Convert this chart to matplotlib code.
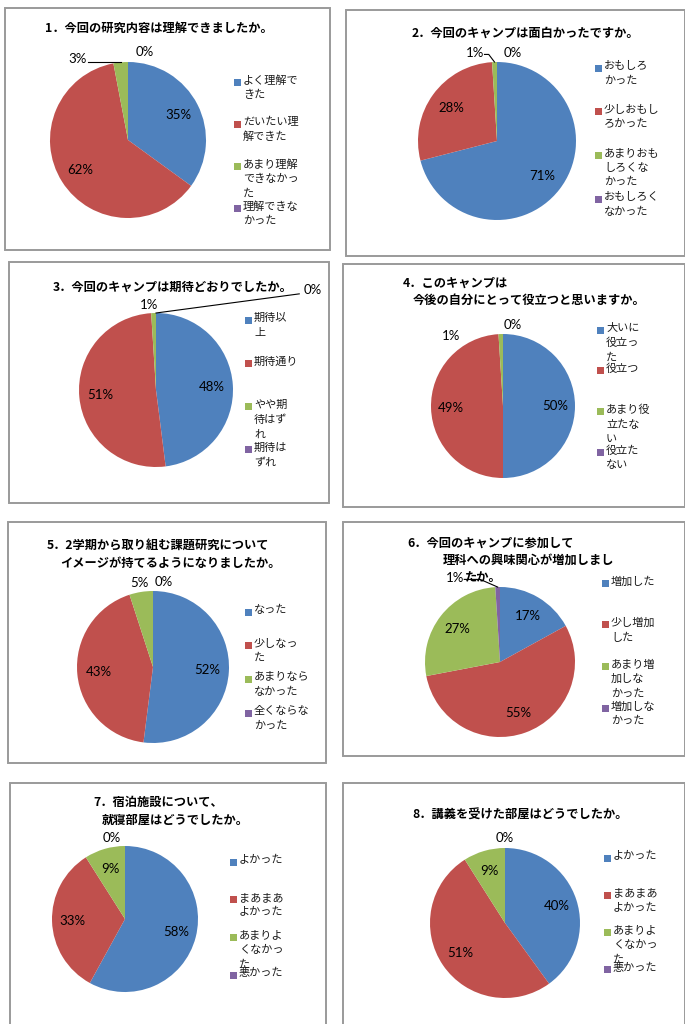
import matplotlib
matplotlib.use("Agg")
import numpy as np
import matplotlib.pyplot as plt
from matplotlib.patches import Rectangle

plt.rcParams['font.family'] = ['Noto Sans CJK JP', 'DejaVu Sans']

W, H = 685, 1024

# ---------------- survey results (%) ----------------
titles = [
    ["1．今回の研究内容は理解できましたか。"],
    ["2．今回のキャンプは面白かったですか。"],
    ["3．今回のキャンプは期待どおりでしたか。"],
    ["4．このキャンプは", "今後の自分にとって役立つと思いますか。"],
    ["5．2学期から取り組む課題研究について", "イメージが持てるようになりましたか。"],
    ["6．今回のキャンプに参加して", "理科への興味関心が増加しまし", "たか。"],
    ["7．宿泊施設について、", "就寝部屋はどうでしたか。"],
    ["8．講義を受けた部屋はどうでしたか。"],
]

answers = [
    ["よく理解で\nきた", "だいたい理\n解できた", "あまり理解\nできなかっ\nた", "理解できな\nかった"],
    ["おもしろ\nかった", "少しおもし\nろかった", "あまりおも\nしろくな\nかった", "おもしろく\nなかった"],
    ["期待以\n上", "期待通り", "やや期\n待はず\nれ", "期待は\nずれ"],
    ["大いに\n役立っ\nた", "役立つ", "あまり役\n立たな\nい", "役立た\nない"],
    ["なった", "少しなっ\nた", "あまりなら\nなかった", "全くならな\nかった"],
    ["増加した", "少し増加\nした", "あまり増\n加しな\nかった", "増加しな\nかった"],
    ["よかった", "まあまあ\nよかった", "あまりよ\nくなかっ\nた", "悪かった"],
    ["よかった", "まあまあ\nよかった", "あまりよ\nくなかっ\nた", "悪かった"],
]

q1 = [35, 62, 3, 0]
q2 = [71, 28, 1, 0]
q3 = [48, 51, 1, 0]
q4 = [50, 49, 1, 0]
q5 = [52, 43, 5, 0]
q6 = [17, 55, 27, 1]
q7 = [58, 33, 9, 0]
q8 = [40, 51, 9, 0]
results = [q1, q2, q3, q4, q5, q6, q7, q8]

colors = ["#4F81BD", "#C0504D", "#9BBB59", "#8064A2"]

# ---------------- layout (pixels) ----------------
boxes = [(5, 8, 325, 242), (346, 10, 339, 246), (9, 262, 320, 241), (343, 264, 342, 243),
         (8, 522, 318, 241), (343, 522, 342, 234), (10, 783, 316, 245), (343, 783, 342, 245)]
centers = [(128, 140, 78), (497, 141, 79), (156, 390, 77), (503, 406, 72),
           (153, 667, 76), (500, 662, 75), (125, 919, 73), (505, 923, 75)]
title_pos = [[(45, 28)], [(412, 33)], [(53, 287)], [(403, 283), (413, 300)],
             [(47, 545), (60, 563)], [(407, 543), (443, 560), (465, 578)],
             [(93, 802), (102, 820)], [(412, 815)]]
# legend: square x, first entry y, step
legend_pos = [(237, 82, 42), (598, 68, 43.7), (248, 320, 43.3), (600, 330, 40.7),
              (248, 612, 33.7), (605, 583, 41.7), (233, 862, 37.7), (607, 858, 37.3)]
# outside labels: slice index -> (angle deg, radius factor, leader style)
outside = [
    {2: (122, 1.22, "h"), 3: (79, 1.15, None)},
    {2: (104, 1.15, "s"), 3: (80, 1.13, None)},
    {2: (95, 1.11, None), 3: (32.6, 2.41, "far")},
    {2: (127, 1.21, None), 3: (83, 1.13, None)},
    {2: (99, 1.12, None), 3: (83, 1.13, None)},
    {3: (118, 1.27, "s")},
    {3: (99, 1.13, None)},
    {3: (90, 1.13, None)},
]

fig = plt.figure(figsize=(W / 100, H / 100), dpi=100)
fig.patch.set_facecolor("white")


def fx(x):
    return x / W


def fy(y):
    return 1 - y / H


for i, vals in enumerate(results):
    bx, by, bw, bh = boxes[i]
    fig.patches.append(Rectangle((fx(bx), fy(by + bh)), bw / W, bh / H, transform=fig.transFigure,
                                 fill=False, edgecolor="#9a9a9a", linewidth=1.4))

    cx, cy, r = centers[i]
    ax = fig.add_axes([fx(cx - r), fy(cy + r), 2 * r / W, 2 * r / H])
    wedges, _ = ax.pie(vals, colors=colors, startangle=90, counterclock=False,
                       radius=1, wedgeprops=dict(linewidth=0))
    ax.set_xlim(-1, 1)
    ax.set_ylim(-1, 1)
    ax.set_aspect("equal")
    ax.axis("off")

    for k, (v, w) in enumerate(zip(vals, wedges)):
        mid = np.deg2rad((w.theta1 + w.theta2) / 2)
        txt = f"{v}%"
        if k in outside[i]:
            ang, rf, leader = outside[i][k]
            a = np.deg2rad(ang)
            lx, ly = rf * np.cos(a), rf * np.sin(a)
            ex, ey = np.cos(mid), np.sin(mid)
            if leader == "h":
                ax.plot([lx + 0.14, ex], [ey, ey], color="black", lw=0.8, clip_on=False)
            elif leader == "s":
                ax.plot([lx + 0.12, (lx + ex) / 2 + 0.05, ex], [ly - 0.02, ly - 0.02, ey],
                        color="black", lw=0.8, clip_on=False)
            elif leader == "far":
                ax.plot([ex, lx - 0.17], [ey, ly - 0.05], color="black", lw=0.8, clip_on=False)
            ax.text(lx, ly, txt, ha="center", va="center", fontsize=9.5, family="Lato",
                    clip_on=False)
        else:
            ax.text(0.72 * np.cos(mid), 0.72 * np.sin(mid), txt, ha="center", va="center",
                    fontsize=9.5, family="Lato")

    for line, (tx, ty) in zip(titles[i], title_pos[i]):
        fig.text(fx(tx), fy(ty), line, ha="left", va="center", fontsize=8.8,
                 fontweight="bold")

    sx, sy, step = legend_pos[i]
    for k, lab in enumerate(answers[i]):
        ey = sy + k * step
        fig.patches.append(Rectangle((fx(sx - 3.5), fy(ey + 3.5)), 7 / W, 7 / H,
                                     transform=fig.transFigure, facecolor=colors[k],
                                     edgecolor="none"))
        fig.text(fx(sx + 6), fy(ey - 7), lab, ha="left", va="top", fontsize=8,
                 linespacing=1.55, color="#1a1a1a")

fig.savefig("out.png", dpi=100)
